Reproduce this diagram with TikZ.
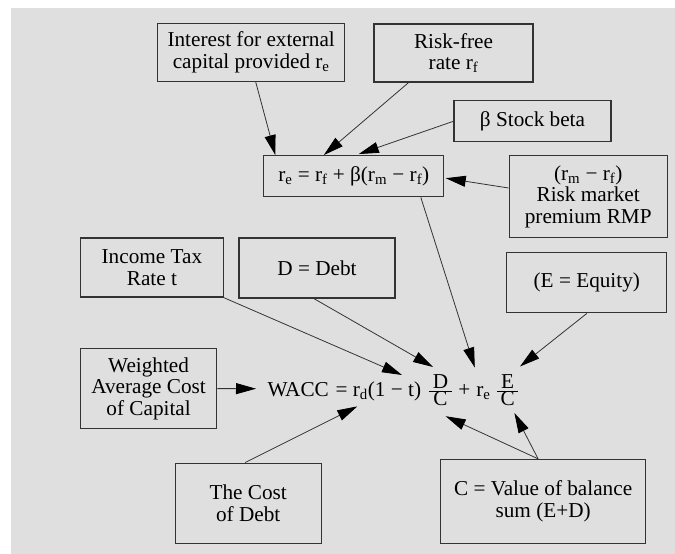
\documentclass[tikz,border=0pt]{standalone}
\usepackage{fontspec}
\setmainfont{Liberation Serif}
\usetikzlibrary{arrows.meta,calc}
\definecolor{bgc}{HTML}{DFDFDF}
\definecolor{boxc}{HTML}{333333}
\definecolor{linec}{HTML}{333333}
\tikzset{
  box/.style={draw=boxc, line width=1.3bp, align=center, inner sep=0pt},
  arr/.style={draw=linec, line width=0.8bp, -{Triangle[length=20bp,width=11bp,fill=black,color=black]}},
}
\begin{document}
\begin{tikzpicture}[x=1bp,y=-1bp,font=\fontsize{21.3}{21.6}\selectfont]
\useasboundingbox (0,0) rectangle (675,554);
\fill[bgc] (11,8) rectangle (675,554);

\node[box, minimum width=187bp, minimum height=58bp] (int) at (251.2,52.3) {Interest for external\\capital provided r\textsubscript{e}};
\node[box, minimum width=159bp, minimum height=58bp] (rf) at (453.5,53) {Risk-free\\rate r\textsubscript{f}};
\node[box, minimum width=157bp, minimum height=41bp] (beta) at (532.5,121.3) {β Stock beta};
\node[box, minimum width=180bp, minimum height=41bp] (re) at (353.8,176.2) {r\textsubscript{e} = r\textsubscript{f} + β(r\textsubscript{m} − r\textsubscript{f})};
\node[box, minimum width=158bp, minimum height=82bp] (rmp) at (588.2,196.6) {(r\textsubscript{m} − r\textsubscript{f})\\Risk market\\premium RMP};
\node[box, minimum width=143bp, minimum height=59bp] (tax) at (151.9,267.6) {Income Tax\\Rate t};
\node[box, minimum width=156bp, minimum height=60bp] (debt) at (317,268) {D = Debt};
\node[box, minimum width=160bp, minimum height=60bp] (eq) at (586.8,282.8) {(E = Equity)};
\node[box, minimum width=136bp, minimum height=80bp] (wbox) at (148.6,388.6) {Weighted\\Average Cost\\of Capital};
\node[box, minimum width=146bp, minimum height=80bp] (cod) at (248.2,503.2) {The Cost\\of Debt};
\node[box, minimum width=205bp, minimum height=84bp] (cval) at (543.1,501.5) {C = Value of balance\\sum (E+D)};

\node[inner sep=0pt, anchor=west] (wacc) at (267.3,390) {WACC\hspace{1.5bp} = r\textsubscript{d}(1 − t)\hspace{6.5bp}$\frac{\mbox{\hspace{4bp}D\hspace{4bp}}}{\mbox{C}}$\hspace{5bp}+\hspace{6bp}r\textsubscript{e}\hspace{5.5bp}$\frac{\mbox{\hspace{4bp}E\hspace{4bp}}}{\mbox{C}}$};

\coordinate (tReE) at (474.8,367.5);
\coordinate (tTax) at (402,375);
\coordinate (tDebt) at (433,367);
\coordinate (tEq) at (520,366.5);
\coordinate (tW) at (256,388.7);
\coordinate (tCod) at (357.3,406.4);
\coordinate (tCD) at (445.6,416.2);
\coordinate (tCE) at (514.4,413);

\draw[arr] ([xshift=4.5bp]int.south) -- ([xshift=-78.5bp]re.north);
\draw[arr] ([xshift=-45bp]rf.south) -- ([xshift=-30bp]re.north);
\draw[arr] (beta.west) -- ([xshift=5bp,yshift=1bp]re.north);
\draw[arr] ([yshift=8.6bp]rmp.west) -- ([xshift=1.3bp,yshift=-2bp]re.east);
\draw[arr] ([xshift=67bp]re.south) -- (tReE);
\draw[arr] (tax.south east) -- (tTax);
\draw[arr] ([xshift=-3bp]debt.south) -- (tDebt);
\draw[arr] (eq.south) -- (tEq);
\draw[arr] (wbox.east) -- (tW);
\draw[arr] ([xshift=-3bp]cod.north) -- (tCod);
\draw[arr] ([xshift=-5bp]cval.north) -- (tCD);
\draw[arr] ([xshift=-5bp]cval.north) -- (tCE);
\end{tikzpicture}
\end{document}
